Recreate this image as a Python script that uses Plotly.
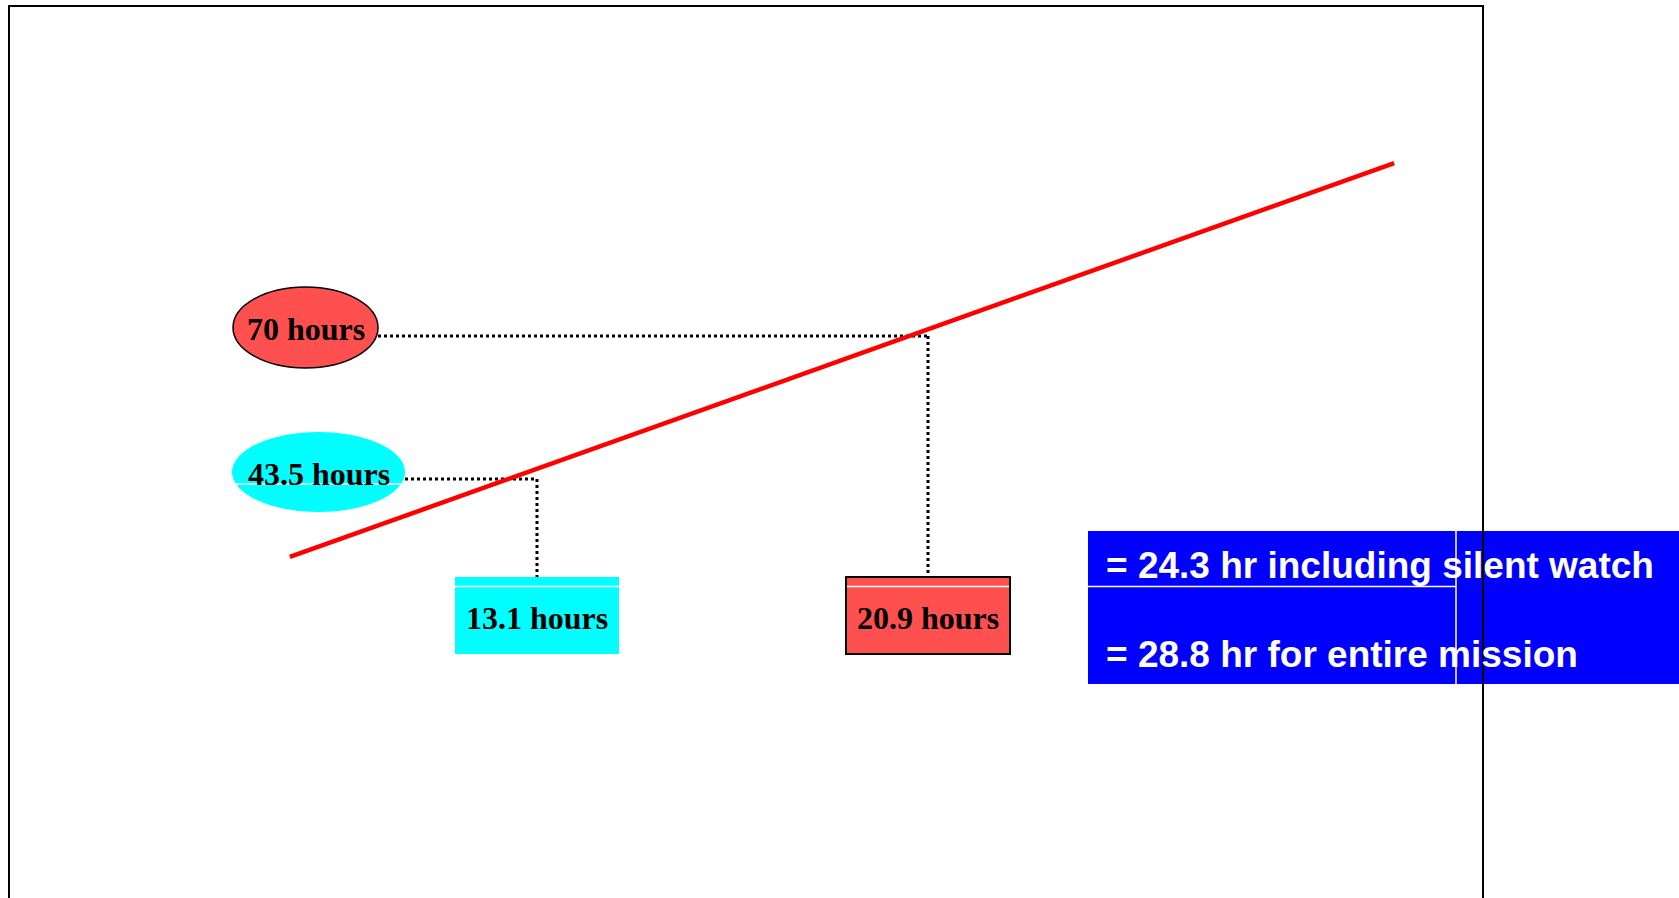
import plotly.graph_objects as go

# ---- data ----
line_x = [8.17, 30.20]          # red trend line, x in hours
line_y = [29.05, 102.06]        # red trend line, y in hours
y_levels = [70, 43.5]
y_labels = ["70 hours", "43.5 hours"]
x_levels = [20.9, 13.1]
x_labels = ["20.9 hours", "13.1 hours"]
level_colors = ["#FF5050", "#00FFFF"]
summary_lines = ["= 24.3 hr including silent watch", "= 28.8 hr for entire mission"]

W, H = 1679, 898
X_RANGE = [2.388, 35.881]
Y_RANGE = [-34.15, 132.27]

def px_x(p):
    return X_RANGE[0] + p / W * (X_RANGE[1] - X_RANGE[0])

def px_y(p):
    return Y_RANGE[1] - p / H * (Y_RANGE[1] - Y_RANGE[0])

fig = go.Figure()

# ellipse extents (pixels) per y label, and box geometry
ell_px = [(233, 378, 287, 368), (232, 405, 432, 512)]
box_half_w = (px_x(619) - px_x(455)) / 2
box_top, box_bot = px_y(577), px_y(654)

shapes = []
annotations = []

# ellipses with y labels
for (x0, x1, y0, y1), col, border in zip(ell_px, level_colors, [True, False]):
    shapes.append(dict(type="circle", xref="x", yref="y",
                       x0=px_x(x0), x1=px_x(x1), y0=px_y(y1), y1=px_y(y0),
                       fillcolor=col, line=dict(color="black" if border else col, width=1.5 if border else 0),
                       layer="below"))

# white artefact strip across cyan ellipse
shapes.append(dict(type="line", xref="x", yref="y", x0=px_x(236), x1=px_x(401),
                   y0=px_y(484), y1=px_y(484), line=dict(color="white", width=1.5), layer="below"))

# boxes with x labels
for xv, col, border in zip(x_levels, level_colors, [True, False]):
    shapes.append(dict(type="rect", xref="x", yref="y",
                       x0=xv - box_half_w, x1=xv + box_half_w, y0=box_bot, y1=box_top,
                       fillcolor=col, line=dict(color="black" if border else col, width=2 if border else 0),
                       layer="below"))
    shapes.append(dict(type="line", xref="x", yref="y",
                       x0=xv - box_half_w + (0.02 if border else 0), x1=xv + box_half_w - (0.02 if border else 0),
                       y0=px_y(586.5), y1=px_y(586.5), line=dict(color="white", width=1.5)))

# dotted connector lines
ell_right = [px_x(378), px_x(405)]
for yv, xv, xs in zip(y_levels, x_levels, ell_right):
    fig.add_trace(go.Scatter(x=[xs, xv], y=[yv, yv], mode="lines",
                             line=dict(color="black", width=3, dash="dot"), hoverinfo="skip"))
    fig.add_trace(go.Scatter(x=[xv, xv], y=[yv, box_top], mode="lines",
                             line=dict(color="black", width=3, dash="dot"), hoverinfo="skip"))

# red line
fig.add_trace(go.Scatter(x=line_x, y=line_y, mode="lines",
                         line=dict(color="#FF0000", width=4.5), hoverinfo="skip"))

# labels
serif = "Liberation Serif, Times New Roman, serif"
lab_pos_y = [(305.8, 327.8), (319, 472.5)]
for (cx, cy), lab in zip(lab_pos_y, y_labels):
    annotations.append(dict(x=px_x(cx), y=px_y(cy), xref="x", yref="y", text="<b>" + lab + "</b>",
                            showarrow=False, font=dict(family=serif, size=32, color="black"),
                            xanchor="center", yanchor="middle", yshift=-1))
for xv, lab in zip(x_levels, x_labels):
    annotations.append(dict(x=xv, y=px_y(616.5), xref="x", yref="y", text="<b>" + lab + "</b>",
                            showarrow=False, font=dict(family=serif, size=32, color="black"),
                            xanchor="center", yanchor="middle", yshift=-1))

# blue summary box (paper coords)
shapes.append(dict(type="rect", xref="paper", yref="paper",
                   x0=1088 / W, x1=1.0, y0=1 - 684 / H, y1=1 - 531 / H,
                   fillcolor="#0000FF", line=dict(width=0)))
shapes.append(dict(type="line", xref="paper", yref="paper",
                   x0=1088 / W, x1=1456 / W, y0=1 - 586.5 / H, y1=1 - 586.5 / H,
                   line=dict(color="white", width=1.5)))
shapes.append(dict(type="line", xref="paper", yref="paper",
                   x0=1456 / W, x1=1456 / W, y0=1 - 684 / H, y1=1 - 531 / H,
                   line=dict(color="white", width=1.5)))
for txt, cy in zip(summary_lines, [565, 654]):
    annotations.append(dict(x=1104 / W, y=1 - cy / H, xref="paper", yref="paper", text="<b>" + txt + "</b>",
                            showarrow=False, xanchor="left", yanchor="middle",
                            font=dict(family="Liberation Sans, Arial, sans-serif", size=37, color="white")))

# outer frame
shapes.append(dict(type="rect", xref="paper", yref="paper",
                   x0=9 / W, x1=1483 / W, y0=-0.02, y1=1 - 6 / H,
                   line=dict(color="black", width=2), fillcolor="rgba(0,0,0,0)"))

fig.update_layout(
    width=W, height=H,
    margin=dict(l=0, r=0, t=0, b=0),
    paper_bgcolor="white", plot_bgcolor="white",
    showlegend=False,
    xaxis=dict(range=X_RANGE, visible=False, fixedrange=True),
    yaxis=dict(range=Y_RANGE, visible=False, fixedrange=True),
    shapes=shapes,
    annotations=annotations,
)

fig.write_html("out.html", config={"displayModeBar": False, "staticPlot": True},
               post_script="document.body.style.margin='0';document.body.style.overflow='hidden';")
